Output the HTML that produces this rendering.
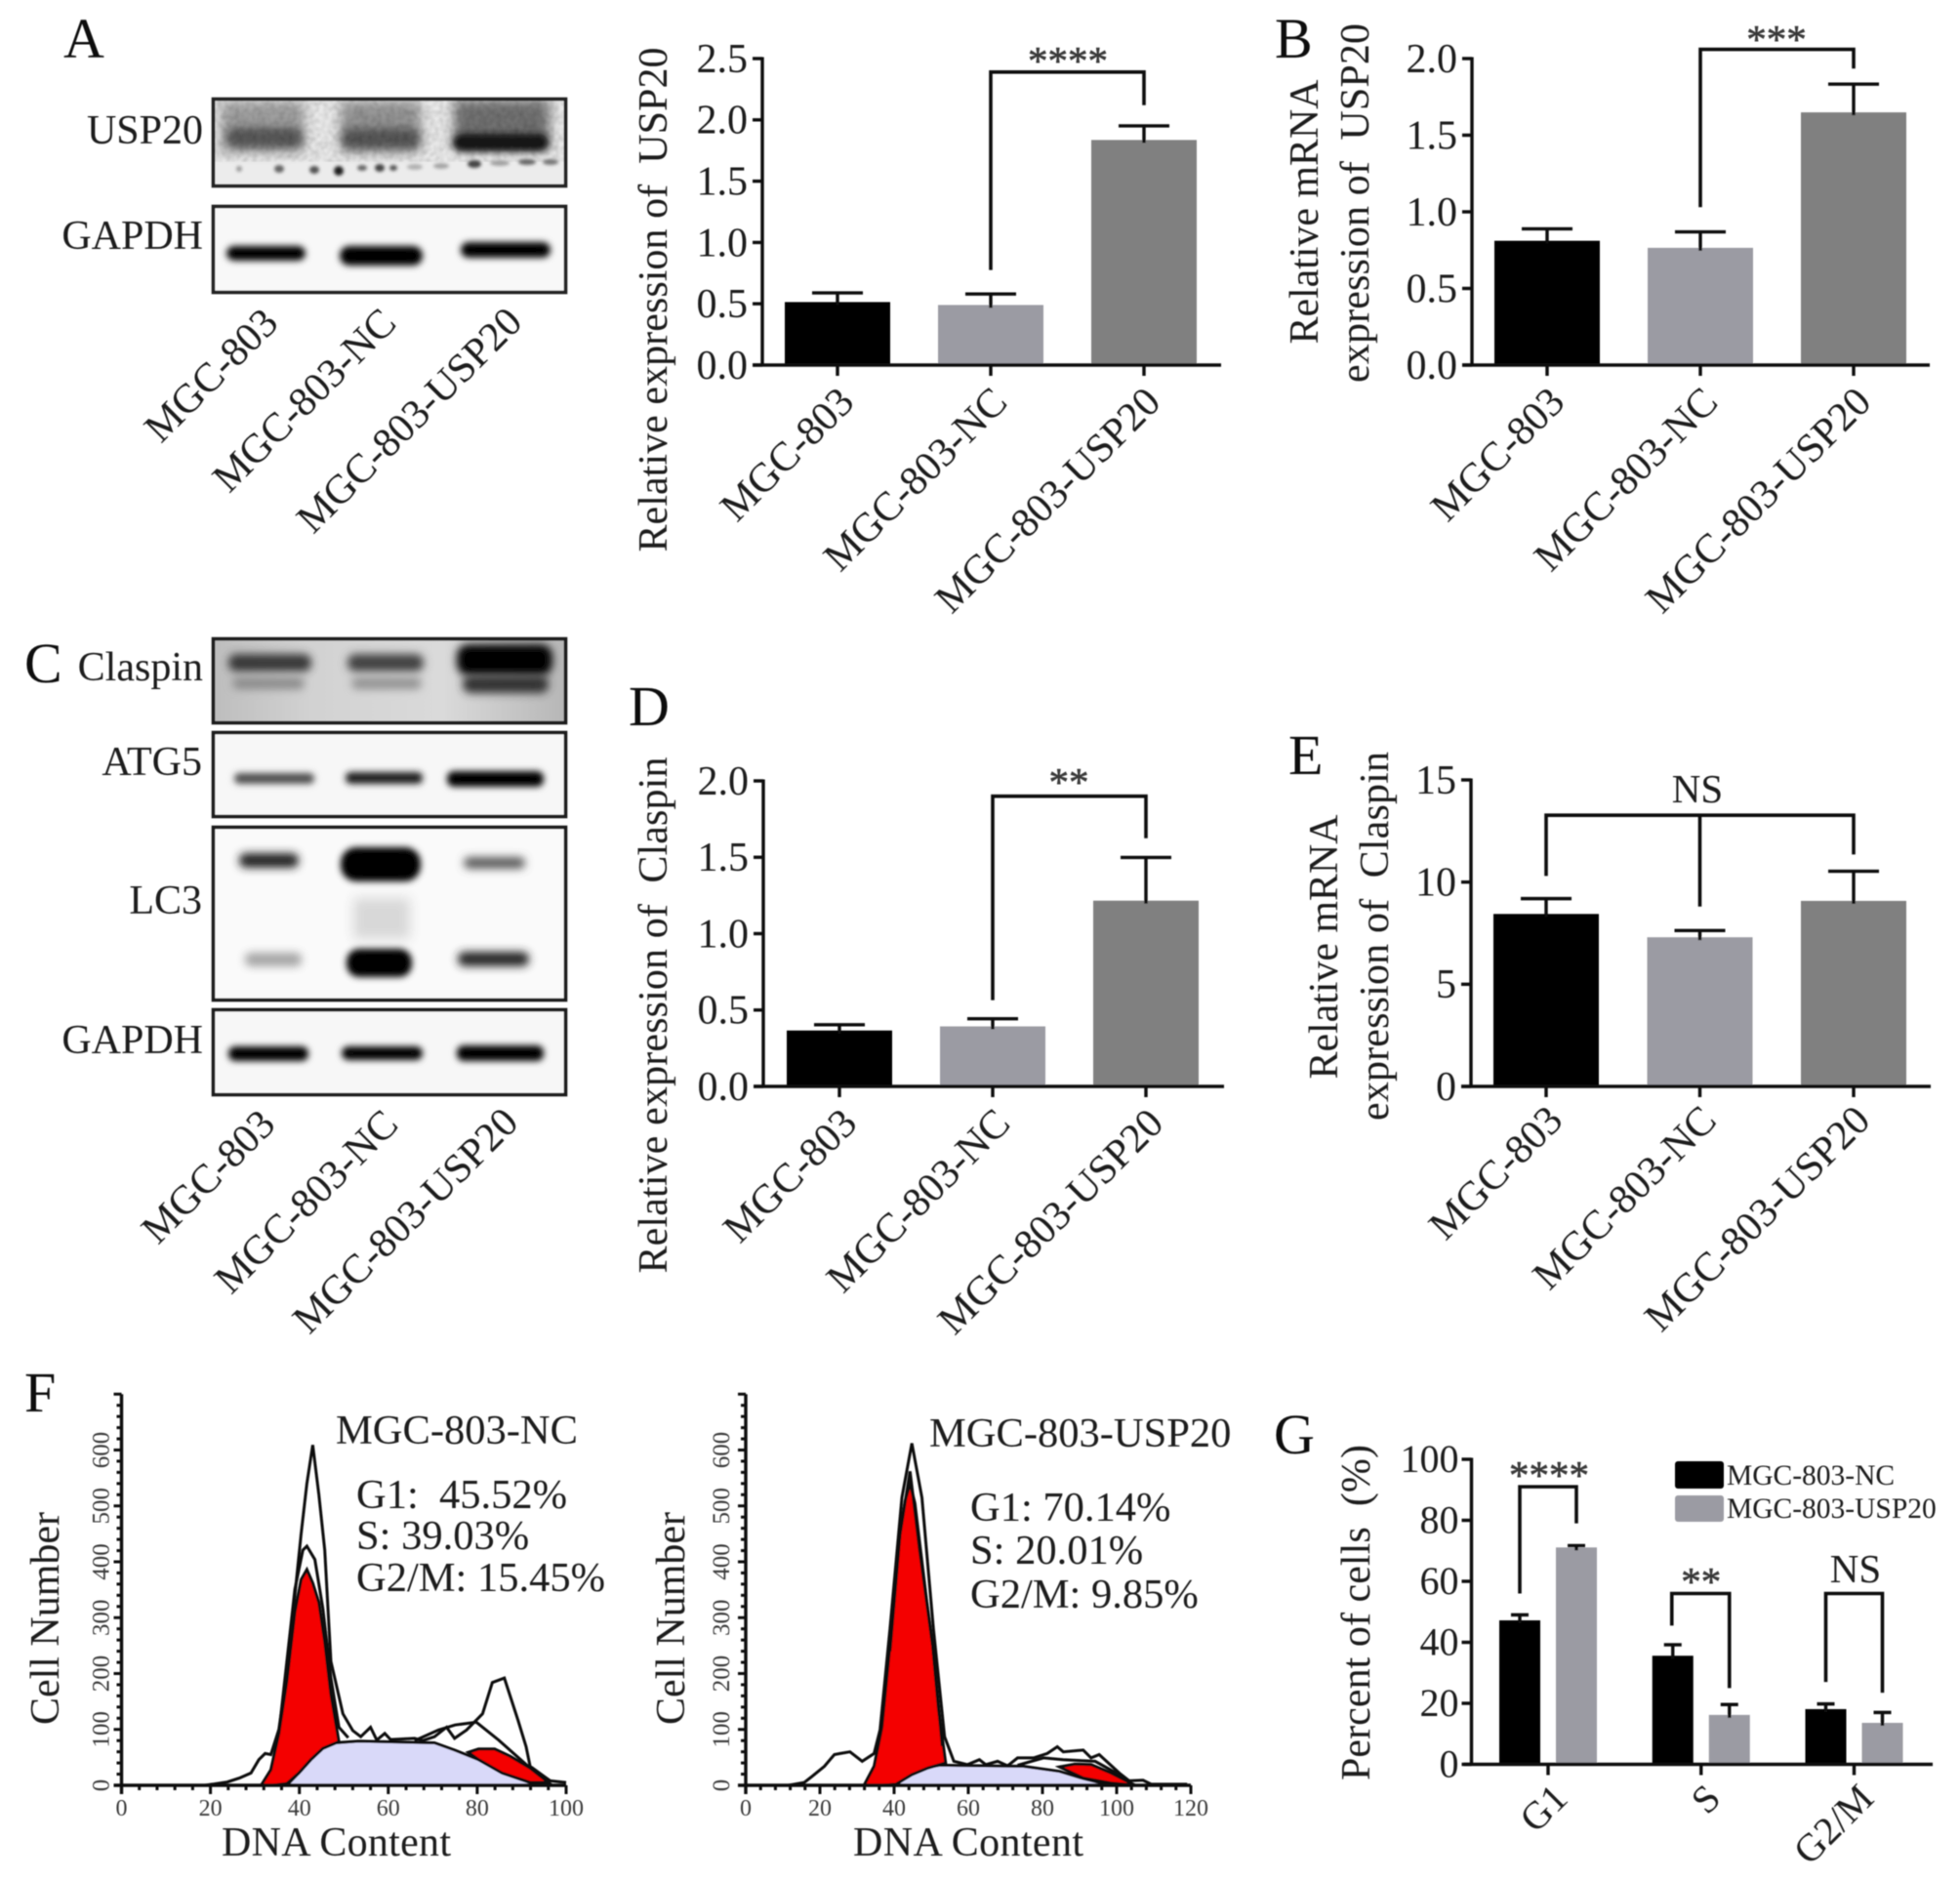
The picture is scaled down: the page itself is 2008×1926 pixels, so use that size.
<!DOCTYPE html>
<html lang="en">
<head>
<meta charset="utf-8">
<title>USP20 expression figure</title>
<style>
html,body{margin:0;padding:0;background:#fff}
svg{display:block}
text{font-family:"Liberation Serif",serif;fill:#1c1c1c;white-space:pre}
.letter{font-size:58px;fill:#111}
.lab{font-size:42px}
.cond{font-size:42.5px;fill:#1c1c1c}
</style>
</head>
<body>
<svg id="figure" xmlns="http://www.w3.org/2000/svg" width="2008" height="1926" viewBox="0 0 2008 1926">
<defs>
<filter id="b3" x="-30%" y="-100%" width="160%" height="300%"><feGaussianBlur stdDeviation="3.4"/></filter>
<filter id="b4" x="-30%" y="-120%" width="160%" height="340%"><feGaussianBlur stdDeviation="4.6"/></filter>
<filter id="b5" x="-30%" y="-80%" width="160%" height="260%"><feGaussianBlur stdDeviation="6"/></filter>
<filter id="b1" x="-100%" y="-100%" width="300%" height="300%"><feGaussianBlur stdDeviation="1.6"/></filter>
<filter id="soft" x="0" y="0" width="100%" height="100%" filterUnits="userSpaceOnUse" primitiveUnits="userSpaceOnUse"><feGaussianBlur stdDeviation="0.5"/></filter>
<filter id="noise" x="0" y="0" width="100%" height="100%"><feTurbulence type="fractalNoise" baseFrequency="0.22" numOctaves="2" seed="4"/><feColorMatrix values="0 0 0 0 0  0 0 0 0 0  0 0 0 0 0  1.6 0 0 0 -0.55"/><feGaussianBlur stdDeviation="1"/></filter>
<clipPath id="c1"><rect x="219" y="102" width="360" height="88"/></clipPath>
<clipPath id="c2"><rect x="219" y="212" width="360" height="87"/></clipPath>
<clipPath id="c3"><rect x="219" y="655" width="360" height="85"/></clipPath>
<clipPath id="c4"><rect x="219" y="751" width="360" height="85"/></clipPath>
<clipPath id="c5"><rect x="219" y="848" width="360" height="176"/></clipPath>
<clipPath id="c6"><rect x="219" y="1035" width="360" height="86"/></clipPath>
<linearGradient id="claspinBg" x1="0" x2="1" y1="0" y2="0"><stop offset="0" stop-color="#bdbdbd"/><stop offset=".28" stop-color="#d2d2d2"/><stop offset=".65" stop-color="#dadada"/><stop offset="1" stop-color="#b6b6b6"/></linearGradient>
</defs>
<rect width="2008" height="1926" fill="#fff"/>
<g id="root" filter="url(#soft)">

<text class="letter" x="65" y="59">A</text>
<text class="letter" x="1306" y="59">B</text>
<text class="letter" x="25" y="699">C</text>
<text class="letter" x="644" y="743">D</text>
<text class="letter" x="1320" y="793">E</text>
<text class="letter" x="25" y="1446">F</text>
<text class="letter" x="1305" y="1489">G</text>

<!-- Panel A blots -->
<g>
<g clip-path="url(#c1)">
<rect x="217" y="100" width="364" height="92" fill="#ececec"/>
<rect x="226" y="104" width="86" height="52" fill="#a0a0a0" filter="url(#b5)"/>
<rect x="349" y="104" width="82" height="52" fill="#959595" filter="url(#b5)"/>
<rect x="465" y="102" width="98" height="50" fill="#727272" filter="url(#b5)"/>
<rect x="232" y="131" width="78" height="20" rx="9" fill="#585858" filter="url(#b4)"/>
<rect x="350" y="132" width="80" height="20" rx="9" fill="#565656" filter="url(#b4)"/>
<rect x="464" y="137" width="98" height="18" rx="9" fill="#161616" filter="url(#b3)"/>
<rect x="217" y="100" width="364" height="66" filter="url(#noise)" opacity="0.22"/>
<circle cx="245" cy="173" r="3" fill="#999" filter="url(#b1)"/>
<ellipse cx="286" cy="173" rx="5" ry="4" fill="#666" filter="url(#b1)"/>
<ellipse cx="322" cy="174" rx="5" ry="4" fill="#555" filter="url(#b1)"/>
<circle cx="347" cy="175" r="5" fill="#222" filter="url(#b1)"/>
<ellipse cx="371" cy="172" rx="5" ry="3" fill="#666" filter="url(#b1)"/>
<ellipse cx="389" cy="172" rx="5" ry="4" fill="#444" filter="url(#b1)"/>
<ellipse cx="403" cy="172" rx="4" ry="3" fill="#555" filter="url(#b1)"/>
<ellipse cx="425" cy="171" rx="8" ry="3" fill="#b0b0b0" filter="url(#b1)"/>
<ellipse cx="452" cy="170" rx="8" ry="3" fill="#a5a5a5" filter="url(#b1)"/>
<ellipse cx="486" cy="168" rx="7" ry="4" fill="#444" filter="url(#b1)"/>
<ellipse cx="512" cy="167" rx="10" ry="3" fill="#a0a0a0" filter="url(#b1)"/>
<ellipse cx="540" cy="166" rx="9" ry="3" fill="#666" filter="url(#b1)"/>
<ellipse cx="564" cy="166" rx="8" ry="3" fill="#777" filter="url(#b1)"/>
</g>
<rect x="218.500" y="101.500" width="361" height="89" fill="none" stroke="#222" stroke-width="3.6"/>
</g>
<g>
<g clip-path="url(#c2)">
<rect x="217" y="210" width="364" height="91" fill="#f8f8f8"/>
<rect x="232" y="252" width="81" height="15" rx="8" fill="#000" filter="url(#b3)"/>
<rect x="348" y="252" width="85" height="20" rx="10" fill="#000" filter="url(#b3)"/>
<rect x="472" y="248" width="92" height="16" rx="8" fill="#000" filter="url(#b3)"/>
</g>
<rect x="218.500" y="211.500" width="361" height="88" fill="none" stroke="#222" stroke-width="3.6"/>
</g>
<text class="lab" text-anchor="end" x="208" y="147">USP20</text>
<text class="lab" text-anchor="end" x="208" y="255">GAPDH</text>
<text class="lab" text-anchor="end" transform="translate(287 333) rotate(-45)">MGC-803</text>
<text class="lab" text-anchor="end" transform="translate(408 333) rotate(-45)">MGC-803-NC</text>
<text class="lab" text-anchor="end" transform="translate(537 332) rotate(-45)">MGC-803-USP20</text>

<!-- Panel C blots -->
<g>
<g clip-path="url(#c3)">
<rect x="217" y="651" width="364" height="91" fill="url(#claspinBg)"/>
<rect x="234" y="670" width="85" height="18" rx="8" fill="#383838" filter="url(#b4)"/>
<rect x="238" y="694" width="74" height="12" rx="6" fill="#8a8a8a" filter="url(#b4)"/>
<rect x="356" y="670" width="78" height="18" rx="8" fill="#424242" filter="url(#b4)"/>
<rect x="360" y="694" width="72" height="12" rx="6" fill="#929292" filter="url(#b4)"/>
<rect x="468" y="660" width="98" height="32" rx="12" fill="#000" filter="url(#b4)"/>
<rect x="474" y="692" width="88" height="18" rx="8" fill="#303030" filter="url(#b4)"/>
</g>
<rect x="218.500" y="654.500" width="361" height="86" fill="none" stroke="#1c1c1c" stroke-width="3.6"/>
</g>
<g>
<g clip-path="url(#c4)">
<rect x="217" y="748" width="364" height="90" fill="#f7f7f7"/>
<rect x="240" y="792" width="82" height="11" rx="5" fill="#4e4e4e" filter="url(#b3)"/>
<rect x="354" y="791" width="79" height="12" rx="5" fill="#1e1e1e" filter="url(#b3)"/>
<rect x="458" y="790" width="99" height="16" rx="7" fill="#000" filter="url(#b3)"/>
</g>
<rect x="218.500" y="750.500" width="361" height="86" fill="none" stroke="#1c1c1c" stroke-width="3.6"/>
</g>
<g>
<g clip-path="url(#c5)">
<rect x="217" y="846" width="364" height="180" fill="#fafafa"/>
<rect x="362" y="920" width="58" height="42" fill="#d8d8d8" filter="url(#b5)"/>
<rect x="245" y="874" width="61" height="15" rx="7" fill="#222" filter="url(#b4)"/>
<rect x="349" y="868" width="82" height="35" rx="16" fill="#000" filter="url(#b3)"/>
<rect x="475" y="878" width="63" height="12" rx="6" fill="#5c5c5c" filter="url(#b4)"/>
<rect x="251" y="976" width="58" height="14" rx="6" fill="#a5a5a5" filter="url(#b4)"/>
<rect x="355" y="972" width="67" height="29" rx="13" fill="#000" filter="url(#b3)"/>
<rect x="469" y="975" width="73" height="15" rx="7" fill="#262626" filter="url(#b4)"/>
</g>
<rect x="218.500" y="847.500" width="361" height="177" fill="none" stroke="#1c1c1c" stroke-width="3.6"/>
</g>
<g>
<g clip-path="url(#c6)">
<rect x="217" y="1032" width="364" height="92" fill="#f7f7f7"/>
<rect x="234" y="1072" width="82" height="15" rx="7" fill="#000" filter="url(#b3)"/>
<rect x="350" y="1072" width="83" height="14" rx="7" fill="#050505" filter="url(#b3)"/>
<rect x="468" y="1071" width="89" height="16" rx="7" fill="#000" filter="url(#b3)"/>
</g>
<rect x="218.500" y="1034.500" width="361" height="87" fill="none" stroke="#1c1c1c" stroke-width="3.6"/>
</g>
<text class="lab" text-anchor="end" x="208" y="697">Claspin</text>
<text class="lab" text-anchor="end" x="207" y="794">ATG5</text>
<text class="lab" text-anchor="end" x="207" y="936">LC3</text>
<text class="lab" text-anchor="end" x="208" y="1079">GAPDH</text>
<text class="lab" text-anchor="end" transform="translate(284 1154) rotate(-45)">MGC-803</text>
<text class="lab" text-anchor="end" transform="translate(410 1154) rotate(-45)">MGC-803-NC</text>
<text class="lab" text-anchor="end" transform="translate(533 1152) rotate(-45)">MGC-803-USP20</text>

<!-- Axis titles -->
<text class="lab" text-anchor="middle" textLength="517" transform="translate(683 307) rotate(-90)">Relative expression of  USP20</text>
<text class="lab" text-anchor="middle" textLength="271" transform="translate(1350 217) rotate(-90)">Relative mRNA</text>
<text class="lab" text-anchor="middle" textLength="368" transform="translate(1402 208) rotate(-90)">expression of  USP20</text>
<text class="lab" text-anchor="middle" textLength="529" transform="translate(683 1040) rotate(-90)">Relative expression of  Claspin</text>
<text class="lab" text-anchor="middle" textLength="271" transform="translate(1370 970) rotate(-90)">Relative mRNA</text>
<text class="lab" text-anchor="middle" textLength="378" transform="translate(1422 959) rotate(-90)">expression of  Claspin</text>
<text class="lab" text-anchor="middle" textLength="218" transform="translate(60 1658) rotate(-90)">Cell Number</text>
<text class="lab" text-anchor="middle" textLength="218" transform="translate(701 1658) rotate(-90)">Cell Number</text>
<text class="lab" text-anchor="middle" textLength="344" transform="translate(1403 1652) rotate(-90)">Percent of cells  (%)</text>
<text class="lab" x="227" y="1901" textLength="235">DNA Content</text>
<text class="lab" x="874" y="1901" textLength="236">DNA Content</text>

<!-- Cell-cycle annotations -->
<text class="cond" x="344" y="1479">MGC-803-NC</text>
<text class="cond" x="365" y="1545">G1:  45.52%</text>
<text class="cond" x="365" y="1587">S: 39.03%</text>
<text class="cond" x="365" y="1630">G2/M: 15.45%</text>
<text class="cond" x="952" y="1482">MGC-803-USP20</text>
<text class="cond" x="994" y="1558">G1: 70.14%</text>
<text class="cond" x="994" y="1602">S: 20.01%</text>
<text class="cond" x="994" y="1647">G2/M: 9.85%</text>

<g id="charts"></g>
</g>
</svg>

<script>
/* ---------- Bar chart data ---------- */
const lineCategories = ['MGC-803', 'MGC-803-NC', 'MGC-803-USP20'];
const usp20ProteinValues = [0.514, 0.49, 1.836];
const usp20ProteinErrors = [0.075, 0.09, 0.115];
const usp20ProteinTicks = ['0.0', '0.5', '1.0', '1.5', '2.0', '2.5'];
const usp20MrnaValues = [0.811, 0.765, 1.649];
const usp20MrnaErrors = [0.078, 0.104, 0.184];
const usp20MrnaTicks = ['0.0', '0.5', '1.0', '1.5', '2.0'];
const claspinProteinValues = [0.366, 0.393, 1.216];
const claspinProteinErrors = [0.038, 0.05, 0.283];
const claspinProteinTicks = ['0.0', '0.5', '1.0', '1.5', '2.0'];
const claspinMrnaValues = [8.44, 7.3, 9.08];
const claspinMrnaErrors = [0.75, 0.33, 1.45];
const claspinMrnaTicks = ['0', '5', '10', '15'];

const phaseCategories = ['G1', 'S', 'G2/M'];
const percentNcValues = [47.2, 35.6, 18.1];
const percentNcErrors = [1.8, 3.6, 1.7];
const percentUsp20Values = [71.1, 16.2, 13.6];
const percentUsp20Errors = [0.6, 3.4, 3.4];
const percentTicks = ['0', '20', '40', '60', '80', '100'];

/* ---------- Flow histogram data: [DNA content, cell number] ---------- */
const flowCountTicks = [0, 100, 200, 300, 400, 500, 600];
const flowNcDnaTicks = [0, 20, 40, 60, 80, 100];
const flowUsp20DnaTicks = [0, 20, 40, 60, 80, 100, 120];
const ncSPhase = [[37.2,0],[39.9,22],[42.6,46],[45.3,66],[48,76],[53.4,79],[70.4,76],[74.9,63],[80.3,46],[85.6,22],[91.9,5],[96.4,0]];
const ncG1Phase = [[31.4,0],[33.6,28],[35.4,93],[37.2,187],[39,310],[40.4,368],[41.7,386],[43,362],[44.4,327],[45.7,257],[47.1,163],[48.9,78],[45.3,66],[42.6,46],[39.9,22],[37.2,3],[34,0]];
const ncG2Phase = [[78,59],[80.3,65],[83.9,65],[87.4,52],[91.9,31],[96,5],[91.9,5],[85.6,22],[80.3,46]];
const ncRawTrace = [[18.8,0],[23.8,6],[26.5,13],[29.1,22],[30.9,46],[32.3,57],[33.6,55],[35.4,100],[37.2,200],[39,340],[40.4,450],[41.7,540],[43,609],[44.4,520],[45.7,421],[47.1,222],[49.8,128],[52,98],[53.8,87],[56,104],[57.4,81],[59.2,93],[60.5,82],[65.9,84],[67.7,80],[70.4,87],[73.1,104],[74.9,84],[77.6,99],[81.2,128],[83.4,184],[86.1,192],[89.2,116],[91,69],[91.9,34],[96.4,8],[100,5]];
const ncModelTrace = [[35.4,93],[39,351],[40.8,421],[41.7,428],[43.5,404],[45.3,316],[47.1,192],[48.9,104],[51,85]];
const ncEnvelopeTrace = [[65.9,80],[71.3,99],[75,108],[79.8,113],[84.8,81],[91.9,31],[96.4,8]];
const usp20SPhase = [[40.5,0],[43.7,19],[48,31],[52.3,36],[74.9,34],[84.6,25],[91,12],[98.5,0]];
const usp20G1Phase = [[31.9,0],[34.6,34],[36.7,104],[38.9,251],[40.4,380],[41.6,450],[43,510],[44.3,540],[45.6,505],[46.8,440],[48.8,330],[50.4,250],[52,135],[53.9,40],[49.1,31],[44.8,19],[40.5,2],[37,0]];
const usp20G2Phase = [[84.6,33],[88.8,38],[93.1,37],[98.5,22],[105,0],[98.5,4],[91,13]];
const usp20RawTrace = [[11.5,0],[15.8,5],[17.9,16],[21.2,34],[23.9,55],[25.5,57],[28.1,60],[31.4,43],[34.6,57],[36.2,99],[38.9,280],[42.1,515],[44.8,612],[47.5,515],[50.6,280],[53.6,87],[56.1,43],[59.8,37],[63,46],[64.7,37],[67.9,43],[70.6,35],[73.3,49],[77.6,49],[81.3,57],[84,69],[85.6,60],[91,63],[93.1,49],[95.3,55],[100.7,22],[103.4,8],[107.1,9],[109.3,2],[119,2]];
const usp20ModelTrace = [[38.9,240],[41.6,450],[44.3,562],[46.9,420],[50.4,250],[53,70]];
const usp20EnvelopeTrace = [[73.3,36],[80.3,49],[85.6,46],[94.2,43],[100.7,19],[104,2]];

/* ---------- Helpers ---------- */
const NS = 'http://www.w3.org/2000/svg';
const chartsRoot = document.getElementById('charts');
function make(parent, tag, attrs, txt) {
  const node = document.createElementNS(NS, tag);
  for (const k in attrs) node.setAttribute(k, attrs[k]);
  if (txt !== undefined) node.textContent = txt;
  parent.appendChild(node);
  return node;
}
function line(parent, x1, y1, x2, y2, w, color) {
  return make(parent, 'line', {x1: x1, y1: y1, x2: x2, y2: y2, stroke: color || '#111', 'stroke-width': w || 3});
}
const AXIS_W = 3.4;

/* draws the y axis, ticks and tick labels with a linear scale */
function yAxis(g, left, top, bottom, maxV, ticks, font, labelGap, prefix) {
  const y = v => bottom - (v / maxV) * (bottom - top);
  const axis = line(g, left, top - 1.5, left, bottom + 1.5, AXIS_W);
  
  
  ticks.forEach(label => {
    const v = parseFloat(label);
    const tick = line(g, left - 10, y(v), left, y(v), AXIS_W);
    
    
    const tl = make(g, 'text', {x: left - labelGap, y: y(v) + font * 0.33, 'text-anchor': 'end', 'font-size': font}, label);
    
    
  });
  return y;
}
function upperError(g, cx, yTop, yBase, capHalf, prefix) {
  const stem = line(g, cx, yTop, cx, yBase + 3, AXIS_W);
  
  
  const cap = line(g, cx - capHalf, yTop, cx + capHalf, yTop, AXIS_W);
  
  
}
function stars(g, cx, yBase, txt, prefix) {
  const s = make(g, 'text', {x: cx, y: yBase, 'text-anchor': 'middle', 'font-size': txt === 'NS' ? 41 : 41}, txt);
  s.style.fill = txt === 'NS' ? '#1c1c1c' : '#3a3a3a';
  s.style.stroke = txt === 'NS' ? 'none' : '#3a3a3a';
  s.style.strokeWidth = '0.6';
  
  
}
function bracket(g, pts, prefix) {
  const p = make(g, 'path', {d: 'M' + pts.map(q => q.join(' ')).join('L'), fill: 'none', stroke: '#111', 'stroke-width': 3.6});
  
  
}

const BAR_COLORS = ['#000000', '#9b9ba3', '#808080'];

function barChart(c) {
  const g = make(chartsRoot, 'g', {});
  
  
  const y = v => c.bottom - (v / c.maxV) * (c.bottom - c.top);
  const x = i => c.first + i * c.step;
  c.values.forEach((v, i) => {
    const bar = make(g, 'rect', {x: x(i) - 54, y: y(v), width: 108, height: c.bottom - y(v), fill: BAR_COLORS[i]});
    
    
    upperError(g, x(i), y(v + c.errors[i]), y(v), 26, c.name);
  });
  yAxis(g, c.left, c.top, c.bottom, c.maxV, c.ticks, 42, 15, c.name);
  const xAxis = line(g, c.left - 10, c.bottom, c.axisEnd, c.bottom, AXIS_W);
  
  
  c.categories.forEach((label, i) => {
    const tick = line(g, x(i), c.bottom, x(i), c.bottom + 11, AXIS_W);
    
    
    const t = make(g, 'text', {'text-anchor': 'end', 'font-size': 42, transform: 'translate(' + (x(i) + c.labelDx) + ' ' + (c.bottom + c.labelDy) + ') rotate(-45)'}, label);
    
    
  });
  c.draw(g, x, y);
}

barChart({
  name: 'usp20-protein-chart', categories: lineCategories, values: usp20ProteinValues, errors: usp20ProteinErrors, ticks: usp20ProteinTicks,
  left: 781, top: 60, bottom: 374, maxV: 2.5, first: 858, step: 157, axisEnd: 1251, labelDx: 19, labelDy: 40,
  draw(g, x, y) {
    bracket(g, [[x(1), y(0.775)], [x(1), y(2.39)], [x(2), y(2.39)], [x(2), y(2.12)]], 'usp20-protein');
    stars(g, 1094, 76, '****', 'usp20-protein');
  }
});
barChart({
  name: 'usp20-mrna-chart', categories: lineCategories, values: usp20MrnaValues, errors: usp20MrnaErrors, ticks: usp20MrnaTicks,
  left: 1508, top: 60, bottom: 374, maxV: 2.0, first: 1585, step: 157, axisEnd: 1977, labelDx: 20, labelDy: 40,
  draw(g, x, y) {
    bracket(g, [[x(1), y(1.03)], [x(1), y(2.06)], [x(2), y(2.06)], [x(2), y(1.935)]], 'usp20-mrna');
    stars(g, 1820, 54, '***', 'usp20-mrna');
  }
});
barChart({
  name: 'claspin-protein-chart', categories: lineCategories, values: claspinProteinValues, errors: claspinProteinErrors, ticks: claspinProteinTicks,
  left: 782, top: 800, bottom: 1113, maxV: 2.0, first: 860, step: 157, axisEnd: 1254, labelDx: 20, labelDy: 40,
  draw(g, x, y) {
    bracket(g, [[x(1), y(0.565)], [x(1), y(1.9)], [x(2), y(1.9)], [x(2), y(1.625)]], 'claspin-protein');
    stars(g, 1095, 815, '**', 'claspin-protein');
  }
});
barChart({
  name: 'claspin-mrna-chart', categories: lineCategories, values: claspinMrnaValues, errors: claspinMrnaErrors, ticks: claspinMrnaTicks,
  left: 1507, top: 799, bottom: 1113, maxV: 15, first: 1584, step: 157.5, axisEnd: 1978, labelDx: 19, labelDy: 37,
  draw(g, x, y) {
    bracket(g, [[x(0), y(10.3)], [x(0), y(13.27)], [x(2), y(13.27)], [x(2), y(11.35)]], 'claspin-mrna');
    bracket(g, [[x(1), y(13.27)], [x(1), y(8.8)]], 'claspin-mrna-middle');
    stars(g, 1739, 822, 'NS', 'claspin-mrna');
  }
});

/* ---------- Flow histograms ---------- */
function flowChart(c) {
  const g = make(chartsRoot, 'g', {});
  
  
  const x = v => c.left + (v / c.maxX) * (c.right - c.left);
  const y = v => c.bottom - v * c.pxPerCount;
  const pathOf = (pts, close) => 'M' + pts.map(p => x(p[0]).toFixed(1) + ' ' + y(p[1]).toFixed(1)).join('L') + (close ? 'Z' : '');

  const sArea = make(g, 'path', {d: pathOf(c.s, true), fill: '#d9d9f9', stroke: '#111', 'stroke-width': 3});
  
  
  const g1Area = make(g, 'path', {d: pathOf(c.g1, true), fill: '#f40000', stroke: '#111', 'stroke-width': 3});
  
  
  const g2Area = make(g, 'path', {d: pathOf(c.g2, true), fill: '#f40000', stroke: '#111', 'stroke-width': 3});
  
  

  const rawLine = make(g, 'path', {d: pathOf(c.raw), fill: 'none', stroke: '#111', 'stroke-width': 3});
  
  
  const modelLine = make(g, 'path', {d: pathOf(c.model), fill: 'none', stroke: '#111', 'stroke-width': 3});
  
  
  const envelopeLine = make(g, 'path', {d: pathOf(c.envelope), fill: 'none', stroke: '#111', 'stroke-width': 3});
  
  

  const yAx = line(g, c.left, c.bottom - 700 * c.pxPerCount, c.left, c.bottom + 9, 3.4);
  
  
  const xAx = line(g, c.left - 8, c.bottom, c.right, c.bottom, 3.4);
  
  

  for (let v = 0; v <= 700; v += 20) {
    const major = v % 100 === 0;
    const t = line(g, c.left - (major ? 8 : 5), y(v), c.left, y(v), 3);
    
    
  }
  for (let v = 0; v <= c.maxX; v += 4) {
    const major = v % 20 === 0;
    const t = line(g, x(v), c.bottom, x(v), c.bottom + (major ? 9 : 5), 3);
    
    
  }
  c.countTicks.forEach(v => {
    const lab = make(g, 'text', {'text-anchor': 'middle', 'font-size': 25, transform: 'translate(' + (c.left - c.yLabelGap) + ' ' + y(v) + ') rotate(-90)'}, String(v));
    lab.style.fill = '#3a3a3a';
    
    
  });
  c.dnaTicks.forEach(v => {
    const lab = make(g, 'text', {x: x(v), y: 1860, 'text-anchor': 'middle', 'font-size': 24}, String(v));
    lab.style.fill = '#3a3a3a';
    
    
  });
}
flowChart({
  name: 'flow-nc-chart', left: 124.5, right: 580, bottom: 1829, maxX: 100, pxPerCount: 0.5725, yLabelGap: 13,
  s: ncSPhase, g1: ncG1Phase, g2: ncG2Phase, raw: ncRawTrace, model: ncModelTrace, envelope: ncEnvelopeTrace,
  countTicks: flowCountTicks, dnaTicks: flowNcDnaTicks
});
flowChart({
  name: 'flow-usp20-chart', left: 764, right: 1220, bottom: 1829, maxX: 120, pxPerCount: 0.5725, yLabelGap: 17,
  s: usp20SPhase, g1: usp20G1Phase, g2: usp20G2Phase, raw: usp20RawTrace, model: usp20ModelTrace, envelope: usp20EnvelopeTrace,
  countTicks: flowCountTicks, dnaTicks: flowUsp20DnaTicks
});

/* ---------- Panel G grouped bars ---------- */
(function () {
  const g = make(chartsRoot, 'g', {});
  
  
  const top = 1495, bottom = 1807.5, left = 1507.5;
  const x = i => 1586 + i * 156.75;
  const y = v => bottom - (v / 100) * (bottom - top);
  const BAR = 42;
  phaseCategories.forEach((label, i) => {
    const b1 = make(g, 'rect', {x: x(i) - 29 - BAR / 2, y: y(percentNcValues[i]), width: BAR, height: bottom - y(percentNcValues[i]), fill: '#000'});
    
    
    upperError(g, x(i) - 29, y(percentNcValues[i] + percentNcErrors[i]), y(percentNcValues[i]), 9, 'percent-nc');
    const b2 = make(g, 'rect', {x: x(i) + 29 - BAR / 2, y: y(percentUsp20Values[i]), width: BAR, height: bottom - y(percentUsp20Values[i]), fill: '#9b9ba3'});
    
    
    upperError(g, x(i) + 29, y(percentUsp20Values[i] + percentUsp20Errors[i]), y(percentUsp20Values[i]), 9, 'percent-usp20');
    const tick = line(g, x(i), bottom, x(i), bottom + 11, AXIS_W);
    
    
    const t = make(g, 'text', {'text-anchor': 'end', 'font-size': 40, transform: 'translate(' + (x(i) + 22) + ' ' + (bottom + 37) + ') rotate(-45)'}, label);
    
    
  });
  yAxis(g, left, top, bottom, 100, percentTicks, 40, 13, 'percent');
  const xAxis = line(g, left - 8, bottom, 1980, bottom, AXIS_W);
  
  

  bracket(g, [[x(0) - 29, y(56)], [x(0) - 29, y(91)], [x(0) + 29, y(91)], [x(0) + 29, y(79)]], 'percent-g1');
  stars(g, x(0) + 1, 1525, '****', 'percent-g1');
  bracket(g, [[x(1) - 30, y(45.5)], [x(1) - 30, y(56)], [x(1) + 29, y(56)], [x(1) + 29, y(25)]], 'percent-s');
  stars(g, x(1), 1634, '**', 'percent-s');
  bracket(g, [[x(2) - 29, y(27)], [x(2) - 29, y(56)], [x(2) + 29, y(56)], [x(2) + 29, y(23.5)]], 'percent-g2m');
  stars(g, 1901, 1621, 'NS', 'percent-g2m');

  const swatch1 = make(g, 'rect', {x: 1716, y: 1497, width: 50, height: 28, rx: 3, fill: '#000'});
  
  
  const swatch2 = make(g, 'rect', {x: 1716, y: 1532, width: 50, height: 27, rx: 3, fill: '#9b9ba3'});
  
  
  const leg1 = make(g, 'text', {x: 1769, y: 1521, 'font-size': 29.5}, 'MGC-803-NC');
  
  
  const leg2 = make(g, 'text', {x: 1769, y: 1555, 'font-size': 29.5}, 'MGC-803-USP20');
  
  
})();
</script>
</body>
</html>
